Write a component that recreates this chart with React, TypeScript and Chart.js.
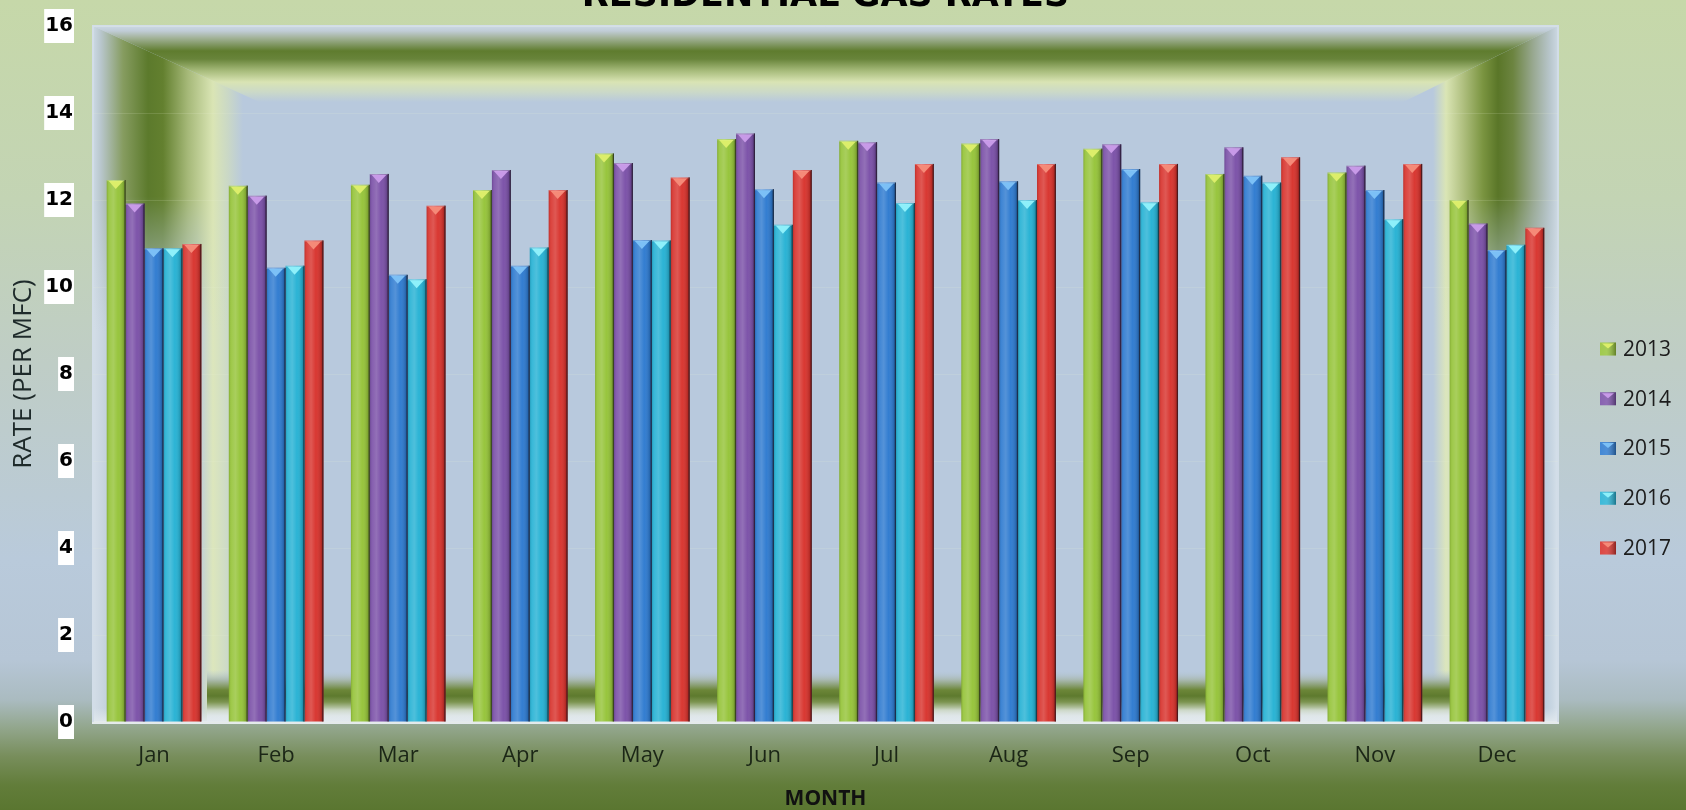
import React, { useEffect, useRef } from "react";
import { Chart, registerables } from "chart.js";

Chart.register(...registerables);

const OFF = 40;
const W = 1686;
const H = 810 + OFF;

const chartTitle = "RESIDENTIAL GAS RATES";
const yAxisTitle = "RATE (PER MFC)";
const xAxisTitle = "MONTH";

const months = ["Jan", "Feb", "Mar", "Apr", "May", "Jun", "Jul", "Aug", "Sep", "Oct", "Nov", "Dec"];
const years = ["2013", "2014", "2015", "2016", "2017"];

const rates2013 = [12.46, 12.33, 12.35, 12.23, 13.07, 13.4, 13.36, 13.3, 13.18, 12.6, 12.63, 12.0];
const rates2014 = [11.92, 12.1, 12.6, 12.69, 12.85, 13.53, 13.33, 13.4, 13.28, 13.21, 12.79, 11.46];
const rates2015 = [10.89, 10.44, 10.28, 10.49, 11.08, 12.25, 12.4, 12.43, 12.71, 12.56, 12.23, 10.85];
const rates2016 = [10.89, 10.49, 10.18, 10.91, 11.07, 11.43, 11.93, 12.0, 11.95, 12.4, 11.56, 10.97];
const rates2017 = [10.99, 11.07, 11.87, 12.23, 12.52, 12.69, 12.83, 12.83, 12.83, 12.98, 12.83, 11.36];

const yMin = 0;
const yMax = 16;
const yStep = 2;

const barColors = ["#96c43a", "#7b51a8", "#2f7bd0", "#27b2d4", "#d8342e"];
const capColors = ["#dcee6a", "#c89ae8", "#7cc0f6", "#8ef0fa", "#f58a78"];

const BLUE = "#b8c9dd";

type Stop = [number, string];

function grad(ctx: CanvasRenderingContext2D, x0: number, y0: number, x1: number, y1: number, stops: Stop[]) {
  const g = ctx.createLinearGradient(x0, y0, x1, y1);
  stops.forEach(([o, c]) => g.addColorStop(Math.min(1, Math.max(0, o)), c));
  return g;
}

const backgroundPlugin = {
  id: "bgDecor",
  beforeDraw(chart: any) {
    const { ctx, width, height, chartArea: a } = chart;
    ctx.save();
    const P = (py: number) => py / 810;
    ctx.fillStyle = grad(ctx, 0, OFF, 0, height, [
      [0, "#c6d8a9"],
      [P(200), "#c3d4b4"],
      [P(365), "#bfcdc6"],
      [P(560), "#b9cadb"],
      [P(660), "#b6c6d6"],
      [P(700), "#aabbc0"],
      [P(728), "#92a68c"],
      [P(756), "#788e5c"],
      [P(785), "#627d3a"],
      [1, "#5a7630"],
    ]);
    ctx.fillRect(0, 0, width, height);

    const L = a.left, R = a.right, T = a.top, B = a.bottom;
    ctx.fillStyle = BLUE;
    ctx.fillRect(L, T, R - L, B - T);

    // left wall (lower, full height)
    const WL = 175;
    ctx.fillStyle = grad(ctx, L, 0, L + WL, 0, [
      [0, "#d4dee8"], [12 / WL, "#c6d3de"], [24 / WL, BLUE], [104 / WL, BLUE],
      [120 / WL, "#dce6bc"], [132 / WL, "#cfdcc6"], [150 / WL, BLUE], [1, BLUE],
    ]);
    ctx.fillRect(L, T, WL, B - T);
    ctx.save();
    ctx.beginPath();
    ctx.moveTo(L, T); ctx.lineTo(L + WL, T + 80); ctx.lineTo(L + WL, B); ctx.lineTo(L, B); ctx.closePath();
    ctx.clip();
    ctx.fillStyle = grad(ctx, L, 0, L + WL, 0, [
      [0, "#ccd9e4"], [8 / WL, "#b8c6cc"], [30 / WL, "#869c60"], [55 / WL, "#5c7a2c"],
      [70 / WL, "#63802f"], [95 / WL, "#a6b979"], [120 / WL, "#dae5b5"], [135 / WL, "#cad8c6"],
      [150 / WL, BLUE], [1, BLUE],
    ]);
    for (let y = T; y < T + 310; y++) {
      const rel = y - T;
      const al = rel <= 170 ? 1 : Math.max(0, 1 - (rel - 170) / 135);
      ctx.globalAlpha = al;
      ctx.fillRect(L, y, WL, 1);
    }
    ctx.restore();

    // right wall
    const WR = 163;
    ctx.fillStyle = grad(ctx, R - WR, 0, R, 0, [
      [0, BLUE], [38 / WR, BLUE], [51 / WR, "#dce6bc"], [63 / WR, "#cad8c8"], [75 / WR, BLUE],
      [147 / WR, BLUE], [157 / WR, "#c8d6e2"], [1, "#d6e0ea"],
    ]);
    ctx.fillRect(R - WR, T, WR, B - T);
    ctx.save();
    ctx.beginPath();
    ctx.moveTo(R, T); ctx.lineTo(R - WR, T + 80); ctx.lineTo(R - WR, B); ctx.lineTo(R, B); ctx.closePath();
    ctx.clip();
    ctx.fillStyle = grad(ctx, R - WR, 0, R, 0, [
      [0, BLUE], [38 / WR, BLUE], [51 / WR, "#dae5b5"], [68 / WR, "#b0c080"], [88 / WR, "#7a9440"],
      [103 / WR, "#5a7628"], [118 / WR, "#6c8440"], [138 / WR, "#98a890"], [155 / WR, "#b8c6cc"], [1, "#ccd8e2"],
    ]);
    for (let y = T; y < T + 310; y++) {
      const rel = y - T;
      const al = rel <= 170 ? 1 : Math.max(0, 1 - (rel - 170) / 135);
      ctx.globalAlpha = al;
      ctx.fillRect(R - WR, y, WR, 1);
    }
    ctx.restore();

    // top band
    ctx.save();
    ctx.beginPath();
    ctx.moveTo(L, T); ctx.lineTo(R, T); ctx.lineTo(R - WR, T + 80); ctx.lineTo(L + WL, T + 80); ctx.closePath();
    ctx.clip();
    ctx.fillStyle = grad(ctx, 0, T, 0, T + 80, [
      [0, "#cbd8e4"], [5 / 80, "#c0ccd6"], [12 / 80, "#a2b298"], [25 / 80, "#5f7c2e"], [33 / 80, "#68843a"],
      [45 / 80, "#a8bc7c"], [56 / 80, "#d9e4b4"], [66 / 80, "#cbd9c8"], [76 / 80, BLUE], [1, BLUE],
    ]);
    ctx.fillRect(L, T, R - L, 80);
    ctx.restore();

    // bottom band (transparent top so the pale wall strips show through)
    const bx0 = L + 114, bx1 = R - 108;
    ctx.fillStyle = grad(ctx, 0, B - 52, 0, B, [
      [0, "rgba(184,201,221,0)"], [10 / 52, "rgba(166,182,170,0.9)"], [20 / 52, "#6c8638"], [26 / 52, "#5e7a2e"],
      [32 / 52, "#7c9450"], [40 / 52, "#c8d4c0"], [46 / 52, "#dce4e4"], [1, "#e2e9ee"],
    ]);
    ctx.fillRect(bx0, B - 52, bx1 - bx0, 52);
    ctx.fillStyle = grad(ctx, 0, B - 14, 0, B, [[0, "rgba(226,233,238,0)"], [1, "rgba(226,233,238,0.9)"]]);
    ctx.fillRect(L, B - 14, R - L, 14);

    // rims
    ctx.fillStyle = "#e4eaee";
    ctx.fillRect(L - 1, B - 1, R - L + 2, 3);
    ctx.fillStyle = "#d2dde8";
    ctx.fillRect(L - 1, T - 1, R - L + 2, 2);
    ctx.fillRect(L - 1, T, 2, B - T);
    ctx.fillRect(R - 1, T, 2, B - T);
    ctx.restore();
  },
};

const barDecorPlugin = {
  id: "barDecor",
  afterDatasetsDraw(chart: any) {
    const ctx: CanvasRenderingContext2D = chart.ctx;
    ctx.save();
    chart.data.datasets.forEach((_ds: any, di: number) => {
      const meta = chart.getDatasetMeta(di);
      meta.data.forEach((bar: any) => {
        const { x, y, base, width } = bar.getProps(["x", "y", "base", "width"], true);
        const l = x - width / 2;
        const r = x + width / 2;
        const top = Math.min(y, base);
        const h = Math.abs(base - y);
        ctx.fillStyle = grad(ctx, l, 0, r, 0, [
          [0, "rgba(0,0,0,0.12)"], [0.12, "rgba(255,255,255,0.08)"], [0.35, "rgba(255,255,255,0.18)"],
          [0.6, "rgba(255,255,255,0.02)"], [0.88, "rgba(0,0,0,0.15)"], [1, "rgba(0,0,0,0.42)"],
        ]);
        ctx.fillRect(l, top, width, h);
        ctx.fillStyle = "rgba(25,20,30,0.55)";
        ctx.fillRect(r - 1.2, top, 1.2, h);
        ctx.fillStyle = capColors[di];
        ctx.beginPath();
        ctx.moveTo(l + 2, top + 1);
        ctx.lineTo(r - 2.5, top + 1);
        ctx.lineTo(x - 0.5, top + 9);
        ctx.closePath();
        ctx.fill();
        ctx.fillStyle = "rgba(255,255,255,0.25)";
        ctx.fillRect(l, top, width - 1, 1.2);
      });
    });
    ctx.restore();
  },
};

const legendPlugin = {
  id: "sideLegend",
  afterDraw(chart: any) {
    const ctx: CanvasRenderingContext2D = chart.ctx;
    ctx.save();
    const lx = 1600;
    const ly0 = 349 + OFF;
    const dy = 49.75;
    ctx.font = "21px 'Open Sans', sans-serif";
    ctx.textBaseline = "middle";
    ctx.textAlign = "left";
    chart.data.datasets.forEach((ds: any, i: number) => {
      const cy = ly0 + dy * i;
      const bx = lx, by = cy - 6.5, bw = 16, bh = 13;
      ctx.fillStyle = barColors[i];
      ctx.fillRect(bx, by, bw, bh);
      ctx.fillStyle = grad(ctx, bx, 0, bx + bw, 0, [[0, "rgba(255,255,255,0.1)"], [0.4, "rgba(255,255,255,0.15)"], [1, "rgba(0,0,0,0.35)"]]);
      ctx.fillRect(bx, by, bw, bh);
      ctx.fillStyle = capColors[i];
      ctx.beginPath();
      ctx.moveTo(bx + 2, by + 1);
      ctx.lineTo(bx + bw - 2, by + 1);
      ctx.lineTo(bx + bw / 2, by + 6);
      ctx.closePath();
      ctx.fill();
      ctx.fillStyle = "#1c1c1c";
      ctx.fillText(ds.label, lx + 23, cy + 1);
    });
    ctx.restore();
  },
};

export default function App() {
  const ref = useRef<HTMLCanvasElement>(null);
  useEffect(() => {
    const series = [rates2013, rates2014, rates2015, rates2016, rates2017];
    const chart = new Chart(ref.current as HTMLCanvasElement, {
      type: "bar",
      data: {
        labels: months,
        datasets: years.map((yr, i) => ({
          label: yr,
          data: series[i],
          backgroundColor: barColors[i],
          borderWidth: 0,
          barPercentage: 1,
          categoryPercentage: 0.775,
        })),
      },
      options: {
        responsive: false,
        animation: false,
        devicePixelRatio: 1,
        layout: { padding: { left: 0, right: W - 1558, top: 0, bottom: 0 } },
        plugins: {
          legend: { display: false },
          tooltip: { enabled: false },
          title: {
            display: true,
            fullSize: false,
            text: chartTitle,
            color: "#000",
            font: { family: "'DejaVu Sans', sans-serif", size: 35, weight: "bold", lineHeight: 1.2 },
            padding: { top: 16, bottom: 8 },
          },
        },
        scales: {
          x: {
            grid: { display: false, drawTicks: false },
            border: { display: false },
            ticks: {
              color: "#1b2616",
              font: { family: "'Open Sans', sans-serif", size: 22 },
              padding: 21,
              maxRotation: 0,
              autoSkip: false,
            },
            title: {
              display: true,
              text: xAxisTitle,
              color: "#111",
              font: { family: "'Open Sans', sans-serif", size: 21, weight: "bold", lineHeight: 1 },
              padding: { top: 0, bottom: 0 },
            },
            afterFit: (s: any) => {
              s.height = 88;
            },
          },
          y: {
            min: yMin,
            max: yMax,
            ticks: {
              stepSize: yStep,
              color: "#000",
              font: { family: "'DejaVu Sans', sans-serif", size: 20, weight: "bold" },
              padding: 20,
              showLabelBackdrop: true,
              backdropColor: "#ffffff",
              backdropPadding: { top: 5, bottom: 5, left: 1, right: 1 },
            },
            grid: { color: "rgba(232,240,212,0.15)", drawTicks: false, lineWidth: 1 },
            border: { display: false },
            title: {
              display: true,
              text: yAxisTitle,
              color: "#1e2a2a",
              font: { family: "'Open Sans', sans-serif", size: 26 },
              padding: { top: 8, bottom: 0 },
            },
            afterFit: (s: any) => {
              s.width = 93;
            },
          },
        },
      } as any,
      plugins: [backgroundPlugin, barDecorPlugin, legendPlugin],
    });
    return () => chart.destroy();
  }, []);
  return (
    <div style={{ position: "fixed", left: 0, top: -OFF, width: W, height: H, overflow: "hidden" }}>
      <canvas ref={ref} width={W} height={H} style={{ display: "block", width: W, height: H }} />
    </div>
  );
}
